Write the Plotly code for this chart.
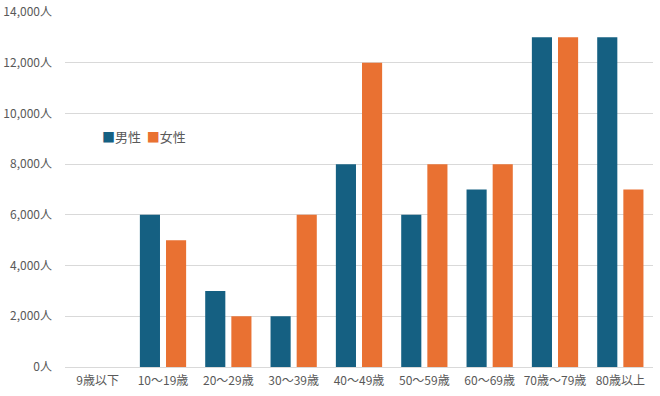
import plotly.graph_objects as go

categories = ["9歳以下", "10〜19歳", "20〜29歳", "30〜39歳", "40〜49歳",
              "50〜59歳", "60〜69歳", "70歳〜79歳", "80歳以上"]
male = [0, 6000, 3000, 2000, 8000, 6000, 7000, 13000, 13000]
female = [0, 5000, 2000, 6000, 12000, 8000, 8000, 13000, 7000]
tick_vals = [0, 2000, 4000, 6000, 8000, 10000, 12000, 14000]
tick_text = ["0人", "2,000人", "4,000人", "6,000人", "8,000人", "10,000人", "12,000人", "14,000人"]
series_names = ["男性", "女性"]
colors = ["#156082", "#E97132"]

font = "Noto Sans CJK JP"
fig = go.Figure()
fig.add_trace(go.Bar(x=categories, y=male, name=series_names[0],
                     marker=dict(color=colors[0], line=dict(width=0))))
fig.add_trace(go.Bar(x=categories, y=female, name=series_names[1],
                     marker=dict(color=colors[1], line=dict(width=0))))

legend_text = (f'<span style="color:{colors[0]}">■</span>{series_names[0]}  '
               f'<span style="color:{colors[1]}">■</span>{series_names[1]}')
fig.add_annotation(text=legend_text, xref="paper", yref="paper", x=0.06, y=0.648,
                   xanchor="left", yanchor="middle", showarrow=False,
                   font=dict(family=font, size=13, color="#595959"))

fig.update_layout(
    width=660, height=396,
    margin=dict(l=65, r=7, t=12, b=29),
    paper_bgcolor="white", plot_bgcolor="white",
    barmode="group", bargap=0.2, bargroupgap=0.23,
    font=dict(family=font, size=12, color="#595959"),
    showlegend=False,
)
fig.update_xaxes(showgrid=False, showline=False, ticks="", automargin=False,
                 ticklabelstandoff=5, tickfont=dict(size=12, color="#595959"))
fig.update_yaxes(range=[0, 14000], tickvals=tick_vals, ticktext=tick_text, automargin=False,
                 showgrid=True, gridcolor="#d9d9d9", gridwidth=1, zeroline=True,
                 zerolinecolor="#d9d9d9", zerolinewidth=1, ticks="", ticklabelstandoff=12,
                 tickfont=dict(size=12, color="#595959"))
fig.write_html("out.html", config={"displayModeBar": False},
               post_script="document.body.style.margin='0';")
